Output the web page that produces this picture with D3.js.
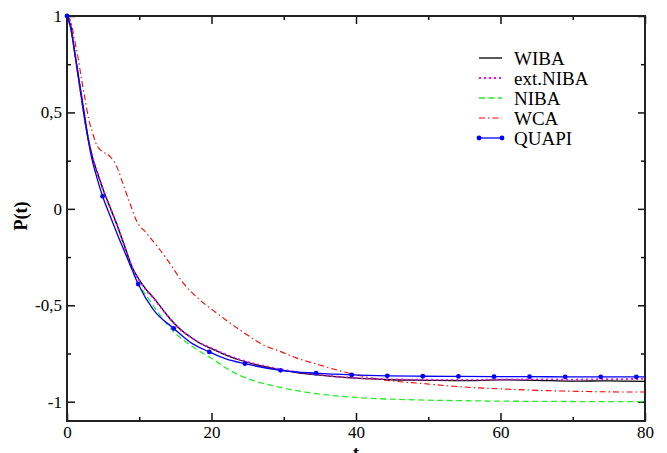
<!DOCTYPE html>
<html>
<head>
<meta charset="utf-8">
<script src="https://d3js.org/d3.v7.min.js"></script>
<style>
  body { margin: 0; background: #fff; }
  svg text { font-family: "Liberation Serif", "Times New Roman", serif; fill: #000; }
</style>
</head>
<body>
<div id="chart"></div>
<script>
// values
const wibaT = [0, 0.5, 1, 1.5, 2, 2.5, 3, 3.5, 4, 4.5, 5, 6, 7, 8, 9, 10, 11, 12, 13, 14, 15, 16, 17, 18, 20, 22, 24, 26, 28, 30, 32, 35, 38, 40, 45, 50, 55, 60, 65, 70, 75, 80];
const wibaP = [1, 0.95, 0.83, 0.7, 0.575, 0.45, 0.35, 0.27, 0.21, 0.155, 0.1, 0.005, -0.09, -0.195, -0.3, -0.368, -0.42, -0.462, -0.51, -0.558, -0.6, -0.635, -0.662, -0.688, -0.725, -0.758, -0.785, -0.806, -0.823, -0.838, -0.85, -0.862, -0.873, -0.878, -0.886, -0.889, -0.891, -0.887, -0.889, -0.893, -0.892, -0.895];

const extT = [0, 0.5, 1, 1.5, 2, 2.5, 3, 3.5, 4, 4.5, 5, 6, 7, 8, 9, 10, 11, 12, 13, 14, 15, 16, 17, 18, 20, 22, 24, 26, 28, 30, 32, 35, 38, 40, 45, 50, 55, 60, 65, 70, 75, 80];
const extP = [1, 0.95, 0.83, 0.7, 0.575, 0.455, 0.355, 0.275, 0.21, 0.155, 0.1, 0.005, -0.092, -0.2, -0.305, -0.372, -0.425, -0.465, -0.512, -0.56, -0.602, -0.636, -0.662, -0.687, -0.722, -0.755, -0.782, -0.803, -0.82, -0.835, -0.847, -0.86, -0.872, -0.877, -0.884, -0.886, -0.887, -0.885, -0.884, -0.885, -0.883, -0.882];

const nibaT = [0, 0.5, 1, 1.5, 2, 2.5, 3, 3.5, 4, 4.5, 5, 6, 7, 8, 9, 10, 11, 12, 13, 14, 15, 16, 17, 18, 20, 22, 24, 26, 28, 30, 33, 36, 40, 45, 50, 55, 60, 70, 80];
const nibaP = [1, 0.95, 0.83, 0.7, 0.575, 0.452, 0.352, 0.27, 0.205, 0.15, 0.095, 0, -0.095, -0.205, -0.315, -0.395, -0.45, -0.505, -0.558, -0.605, -0.645, -0.678, -0.705, -0.73, -0.775, -0.825, -0.865, -0.893, -0.913, -0.93, -0.95, -0.965, -0.978, -0.987, -0.992, -0.995, -0.997, -0.999, -1.0];

const wcaT = [0, 0.5, 1, 1.5, 2, 2.5, 3, 3.5, 4, 4.5, 5, 6, 7, 7.7, 8.7, 9.6, 11, 12.4, 14.2, 16.1, 18.4, 20.7, 23.9, 27.6, 29.5, 31.8, 34.1, 39.6, 45.6, 48.4, 53.5, 62.2, 71.5, 80];
const wcaP = [1, 0.975, 0.885, 0.79, 0.675, 0.57, 0.465, 0.4, 0.34, 0.31, 0.295, 0.27, 0.21, 0.135, 0.03, -0.06, -0.126, -0.19, -0.281, -0.385, -0.472, -0.54, -0.627, -0.713, -0.739, -0.774, -0.8, -0.857, -0.895, -0.903, -0.92, -0.937, -0.947, -0.95];

const quapiT = [0, 0.5, 1, 1.5, 2, 2.5, 3, 3.5, 4, 4.5, 4.925, 6, 7, 8, 9, 9.85, 12, 14.775, 17, 19.7, 22, 24.625, 29.55, 34.475, 39.4, 44.325, 49.25, 54.175, 59.1, 64.025, 68.95, 73.875, 78.8, 80];
const quapiP = [1, 0.94, 0.825, 0.71, 0.59, 0.47, 0.345, 0.25, 0.18, 0.115, 0.065, -0.04, -0.135, -0.225, -0.315, -0.39, -0.525, -0.62, -0.69, -0.742, -0.778, -0.803, -0.837, -0.852, -0.861, -0.866, -0.868, -0.869, -0.87, -0.87, -0.871, -0.871, -0.871, -0.871];
const quapiMarkT = [0, 4.925, 9.85, 14.775, 19.7, 24.625, 29.55, 34.475, 39.4, 44.325, 49.25, 54.175, 59.1, 64.025, 68.95, 73.875, 78.8];

const xTicks = [0, 20, 40, 60, 80];
const xMinor = [10, 30, 50, 70];
const yTicks = [1, 0.5, 0, -0.5, -1];
const yMinor = [0.75, 0.25, -0.25, -0.75];
const legendNames = ["WIBA", "ext.NIBA", "NIBA", "WCA", "QUAPI"];

const W = 667, H = 453;
const pLeft = 67, pTop = 16, pRight = 645, pBottom = 421;

const svg = d3.select("#chart").append("svg")
  .attr("width", W).attr("height", H);

const x = d3.scaleLinear().domain([0, 80]).range([pLeft, pRight]);
const y = d3.scaleLinear().domain([-1.1, 1]).range([pBottom, pTop]);

const fmt = d => String(d).replace(".", ",");

// axes, ticks pointing inward
svg.append("g").attr("transform", `translate(0,${pBottom})`)
  .call(d3.axisBottom(x).tickValues(xTicks).tickSize(-8).tickSizeOuter(0).tickPadding(5).tickFormat(d3.format("d")))
  .call(g => g.selectAll("text").style("font-size", "17px").style("font-family", "Liberation Serif"));
svg.append("g").attr("transform", `translate(0,${pBottom})`)
  .call(d3.axisBottom(x).tickValues(xMinor).tickSize(-4).tickSizeOuter(0).tickFormat(""));
svg.append("g").attr("transform", `translate(0,${pTop})`)
  .call(d3.axisTop(x).tickValues(xTicks).tickSize(-8).tickSizeOuter(0).tickFormat(""));
svg.append("g").attr("transform", `translate(0,${pTop})`)
  .call(d3.axisTop(x).tickValues(xMinor).tickSize(-4).tickSizeOuter(0).tickFormat(""));

svg.append("g").attr("transform", `translate(${pLeft},0)`)
  .call(d3.axisLeft(y).tickValues(yTicks).tickSize(-8).tickSizeOuter(0).tickPadding(5).tickFormat(fmt))
  .call(g => g.selectAll("text").style("font-size", "17px").style("font-family", "Liberation Serif"));
svg.append("g").attr("transform", `translate(${pLeft},0)`)
  .call(d3.axisLeft(y).tickValues(yMinor).tickSize(-4).tickSizeOuter(0).tickFormat(""));
svg.append("g").attr("transform", `translate(${pRight},0)`)
  .call(d3.axisRight(y).tickValues(yTicks).tickSize(-7).tickSizeOuter(0).tickFormat(""));
svg.append("g").attr("transform", `translate(${pRight},0)`)
  .call(d3.axisRight(y).tickValues(yMinor).tickSize(-4).tickSizeOuter(0).tickFormat(""));

svg.selectAll(".domain").remove();
svg.selectAll(".tick line").attr("stroke", "#111").attr("stroke-width", 1.5);

// frame
svg.append("rect")
  .attr("x", pLeft).attr("y", pTop)
  .attr("width", pRight - pLeft).attr("height", pBottom - pTop)
  .attr("fill", "none").attr("stroke", "#222").attr("stroke-width", 2);

// axis titles
svg.append("text")
  .attr("transform", `translate(27,216) rotate(-90)`)
  .attr("text-anchor", "middle")
  .style("font-size", "18px").style("font-weight", "bold")
  .text("P(t)");
// the reference shows only the top of the "t", cut by the bottom edge
svg.append("text")
  .attr("x", x(40)).attr("y", 459)
  .attr("text-anchor", "middle")
  .style("font-size", "18px").style("font-weight", "bold")
  .text("t");

// curves
const series = [
  { t: wibaT, p: wibaP, color: "#000000", dash: null, width: 1.3 },
  { t: extT, p: extP, color: "#ff00ff", dash: "2,3", width: 1.8 },
  { t: nibaT, p: nibaP, color: "#22ee22", dash: "6,3.5", width: 1.3 },
  { t: wcaT, p: wcaP, color: "#ff0000", dash: "6,3,1.5,3", width: 1.1 },
  { t: quapiT, p: quapiP, color: "#0000ff", dash: null, width: 1.3 }
];

const line = d3.line()
  .x(d => x(d[0]))
  .y(d => y(d[1]))
  .curve(d3.curveMonotoneX);

const plot = svg.append("g");
[series[3], series[2], series[0], series[1], series[4]].forEach(s => {
  plot.append("path")
    .datum(d3.zip(s.t, s.p))
    .attr("d", line)
    .attr("fill", "none")
    .attr("stroke", s.color)
    .attr("stroke-width", s.width)
    .attr("stroke-dasharray", s.dash);
});

// QUAPI markers
const quapiMarks = quapiMarkT.map(t => [t, quapiP[quapiT.indexOf(t)]]);
plot.selectAll("circle.q")
  .data(quapiMarks)
  .enter().append("circle")
  .attr("class", "q")
  .attr("cx", d => x(d[0]))
  .attr("cy", d => y(d[1]))
  .attr("r", 2.4)
  .attr("fill", "#0000ff");

// legend
const legend = svg.append("g");
legendNames.forEach((name, i) => {
  const s = series[i];
  const ly = 58 + i * 20;
  legend.append("line")
    .attr("x1", 479).attr("x2", 502)
    .attr("y1", ly).attr("y2", ly)
    .attr("stroke", s.color)
    .attr("stroke-width", s.width)
    .attr("stroke-dasharray", s.dash);
  if (name === "QUAPI") {
    [479, 502].forEach(cx => legend.append("circle")
      .attr("cx", cx).attr("cy", ly).attr("r", 2.4).attr("fill", "#0000ff"));
  }
  legend.append("text")
    .attr("x", 514).attr("y", ly)
    .attr("dy", "0.35em")
    .style("font-size", "19px")
    .text(name);
});
</script>
</body>
</html>
